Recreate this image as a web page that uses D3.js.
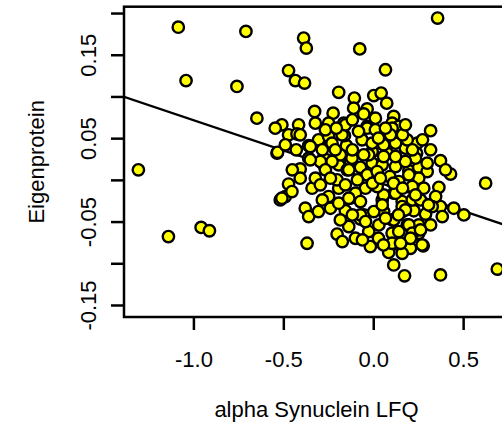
<!DOCTYPE html>
<html>
<head>
<meta charset="utf-8">
<script src="https://cdn.jsdelivr.net/npm/d3@7"></script>
<style>
  body { margin: 0; background: #fff; }
  svg text { font-family: "Liberation Sans", Arial, sans-serif; fill: #000; }
</style>
</head>
<body>
<div id="graf"></div>
<script>
// -- Datos --
xTitulo = 'alpha Synuclein LFQ'
yTitulo = 'Eigenprotein'

xTicks = [-1.0, -0.5, 0.0, 0.5]
yTicks = [-0.15, -0.10, -0.05, 0.00, 0.05, 0.10, 0.15, 0.20]
yEtiquetas = [-0.15, -0.05, 0.05, 0.15]

// recta de regresion (abline)
intercepto = -0.001
pendiente = -0.0725

sinuc = [
  -1.306, -1.084, -1.041, -1.139, -0.957, -0.911, -0.758, -0.708, -0.647, -0.387,
  -0.372, -0.471, -0.433, -0.382, -0.192, -0.075, 0.068, 0.358, -0.105, 0.003,
  0.044, 0.075, -0.109, -0.034, -0.053, -0.326, -0.223, -0.535, -0.471, -0.517,
  -0.489, -0.452, -0.415, 0.625, 0.690, 0.374, 0.174, 0.114, 0.504, 0.448,
  0.374, 0.365, 0.278, 0.207, 0.319, 0.291, 0.226, 0.217, 0.111, 0.086,
  0.189, 0.105, 0.114, 0.161, 0.058, 0.253, 0.114, -0.508, -0.415, -0.545,
  -0.322, -0.248, -0.164, -0.034, 0.319, 0.114, 0.105, 0.142, -0.471, -0.424,
  -0.532, -0.359, -0.304, -0.261, -0.238, -0.149, -0.160, -0.062, -0.006, -0.006,
  0.077, 0.077, 0.133, 0.179, 0.245, 0.241, 0.319, 0.374, 0.430, 0.402,
  0.189, -0.406, -0.359, -0.276, -0.192, -0.145, -0.127, -0.071, 0.050, 0.124,
  0.198, 0.253, 0.300, -0.508, -0.340, -0.378, -0.359, -0.238, -0.248, -0.192,
  -0.127, -0.043, -0.201, -0.155, -0.136, -0.071, -0.025, -0.016, 0.031, 0.050,
  0.092, 0.105, 0.217, 0.226, 0.253, 0.384, -0.368, -0.053, -0.099, 0.161,
  -0.025, 0.161, -0.406, -0.350, -0.248, -0.173, -0.155, -0.229, -0.034, 0.012,
  -0.006, 0.058, 0.105, 0.124, 0.300, 0.235, 0.179, 0.124, 0.058, -0.053,
  -0.118, -0.183, -0.229, -0.294, -0.350, -0.322, -0.266, -0.201, -0.136, -0.034,
  0.022, 0.142, 0.198, 0.217, 0.281, 0.347, 0.328, 0.263, 0.161, 0.124,
  0.058, 0.022, -0.099, -0.192, -0.136, -0.071, 0.003, 0.050, 0.114, 0.179,
  0.253, 0.198, 0.142, 0.105, 0.217, 0.272, -0.071,
  -0.283, -0.211, -0.116, -0.082, 0.029, 0.096, 0.163, 0.218, 0.274, -0.294,
  -0.238, -0.155, -0.088, -0.004, 0.040, 0.113, 0.163, 0.235, 0.307, -0.283,
  -0.305, -0.183, -0.116, -0.043, 0.029, 0.068, 0.140, 0.207, 0.263, 0.152,
  0.057, -0.060, -0.172, -0.406, -0.450, -0.428, -0.489, -0.266, -0.205, -0.116,
  0.012, 0.068, 0.179
]

eigen = [
  0.012, 0.183, 0.119, -0.068, -0.057, -0.061, 0.112, 0.178, 0.074, 0.170,
  0.158, 0.131, 0.119, 0.116, 0.105, 0.157, 0.132, 0.194, 0.098, 0.101,
  0.104, 0.092, 0.086, 0.085, 0.079, 0.082, 0.080, 0.032, -0.005, -0.024,
  -0.020, -0.014, 0.012, -0.004, -0.107, -0.114, -0.115, -0.102, -0.042, -0.034,
  -0.032, -0.009, -0.079, -0.082, -0.054, -0.041, -0.037, -0.009, -0.077, -0.087,
  -0.054, -0.048, -0.016, -0.026, -0.038, -0.064, -0.064, 0.066, 0.066, 0.062,
  0.068, 0.068, 0.068, 0.064, 0.059, 0.076, 0.068, 0.064, 0.054, 0.055,
  0.033, 0.041, 0.048, 0.024, 0.045, 0.041, 0.053, 0.048, 0.034, 0.020,
  0.044, 0.032, 0.045, 0.038, 0.044, 0.032, 0.036, 0.023, 0.007, 0.012,
  0.048, 0.013, 0.026, 0.018, 0.018, 0.012, 0.023, 0.015, 0.018, 0.016,
  0.011, 0.015, 0.010, -0.022, -0.010, -0.034, -0.044, -0.034, -0.020, -0.010,
  -0.022, -0.010, -0.065, -0.037, -0.056, -0.047, -0.062, -0.080, -0.054, -0.024,
  0.004, -0.064, -0.024, -0.062, 0.002, -0.044, -0.076, -0.042, -0.070, -0.088,
  0.030, -0.038, 0.054, 0.040, 0.052, 0.054, 0.066, 0.044, 0.062, 0.060,
  0.044, 0.042, 0.062, 0.044, 0.020, 0.026, 0.022, 0.028, 0.028, 0.030,
  0.026, 0.030, 0.022, 0.022, 0.024, 0.002, 0.012, 0.000, 0.012, 0.006,
  0.010, -0.002, 0.006, -0.008, -0.010, -0.020, -0.032, -0.024, -0.032, -0.016,
  -0.018, -0.008, -0.016, -0.028, -0.022, -0.042, -0.038, -0.030, -0.048, -0.036,
  -0.054, -0.054, -0.062, -0.076, -0.064, -0.078, -0.026,
  0.036, 0.036, 0.036, 0.058, 0.050, 0.054, 0.054, 0.036, 0.048, -0.006,
  0.002, -0.006, 0.000, -0.004, 0.002, -0.004, -0.010, -0.018, -0.030, -0.024,
  -0.038, -0.048, -0.042, -0.050, -0.070, -0.046, -0.042, -0.070, -0.060, -0.076,
  -0.078, -0.072, -0.074, 0.002, 0.012, 0.036, 0.042, 0.060, 0.062, 0.072,
  0.074, 0.062, 0.066
]

puntos = sinuc.map((d, i) => ({x: d, y: eigen[i]}))

// -- Canvas --
ancho_total = 502
alto_total = 433
margins = {top: 6.7, left: 124, right: -7, bottom: 116}
fuente = '22px'

svg = d3.select('#graf').append('svg')
        .attr('width', ancho_total)
        .attr('height', alto_total)

// -- Escaladores --
x = d3.scaleLinear()
      .domain([-1.386, 0.755])
      .range([margins.left, ancho_total - margins.right])

y = d3.scaleLinear()
      .domain([-0.1644, 0.2076])
      .range([alto_total - margins.bottom, margins.top])

svg.append('clipPath')
   .attr('id', 'zona')
   .append('rect')
   .attr('x', x.range()[0])
   .attr('y', y.range()[1])
   .attr('width', x.range()[1] - x.range()[0])
   .attr('height', y.range()[0] - y.range()[1])

plot = svg.append('g').attr('clip-path', 'url(#zona)')

// recta
xs = x.domain()
plot.append('line')
    .attr('x1', x(xs[0]))
    .attr('y1', y(intercepto + pendiente * xs[0]))
    .attr('x2', x(xs[1]))
    .attr('y2', y(intercepto + pendiente * xs[1]))
    .attr('stroke', '#000')
    .attr('stroke-width', 2.3)

// puntos
plot.selectAll('circle')
    .data(puntos)
    .enter()
    .append('circle')
      .attr('cx', d => x(d.x))
      .attr('cy', d => y(d.y))
      .attr('r', 5.7)
      .attr('fill', '#ffff00')
      .attr('stroke', '#000')
      .attr('stroke-width', 2.4)

// caja
svg.append('rect')
   .attr('x', x.range()[0])
   .attr('y', y.range()[1])
   .attr('width', x.range()[1] - x.range()[0])
   .attr('height', y.range()[0] - y.range()[1])
   .attr('fill', 'none')
   .attr('stroke', '#000')
   .attr('stroke-width', 2.5)

// -- Ejes --
xAxisGroup = svg.append('g')
                .attr('transform', `translate(0, ${y.range()[0]})`)
xAxisGroup.call(d3.axisBottom(x)
                  .tickValues(xTicks)
                  .tickSize(13)
                  .tickSizeOuter(0)
                  .tickFormat(d => d.toFixed(1)))
xAxisGroup.select('.domain').remove()
xAxisGroup.selectAll('line').attr('stroke-width', 2.5)
xAxisGroup.selectAll('text')
          .attr('y', 50)
          .attr('dy', 0)
          .style('font-size', fuente)
          .style('font-family', '"Liberation Sans", Arial, sans-serif')

yAxisGroup = svg.append('g')
                .attr('transform', `translate(${x.range()[0]}, 0)`)
yAxisGroup.call(d3.axisLeft(y)
                  .tickValues(yTicks)
                  .tickSize(13)
                  .tickSizeOuter(0)
                  .tickFormat(d => yEtiquetas.some(e => Math.abs(e - d) < 1e-9) ? d.toFixed(2) : ''))
yAxisGroup.select('.domain').remove()
yAxisGroup.selectAll('line').attr('stroke-width', 2.5)
yAxisGroup.selectAll('text')
          .attr('transform', 'rotate(-90)')
          .attr('text-anchor', 'middle')
          .attr('x', 0)
          .attr('y', -28)
          .attr('dy', 0)
          .style('font-size', fuente)
          .style('font-family', '"Liberation Sans", Arial, sans-serif')

// -- Titulos --
svg.append('text')
   .attr('x', (x.range()[0] + x.range()[1]) / 2)
   .attr('y', 417)
   .attr('text-anchor', 'middle')
   .style('font-size', fuente)
   .text(xTitulo)

svg.append('text')
   .attr('transform', `translate(44, ${(y.range()[0] + y.range()[1]) / 2}) rotate(-90)`)
   .attr('text-anchor', 'middle')
   .style('font-size', fuente)
   .text(yTitulo)
</script>
</body>
</html>
